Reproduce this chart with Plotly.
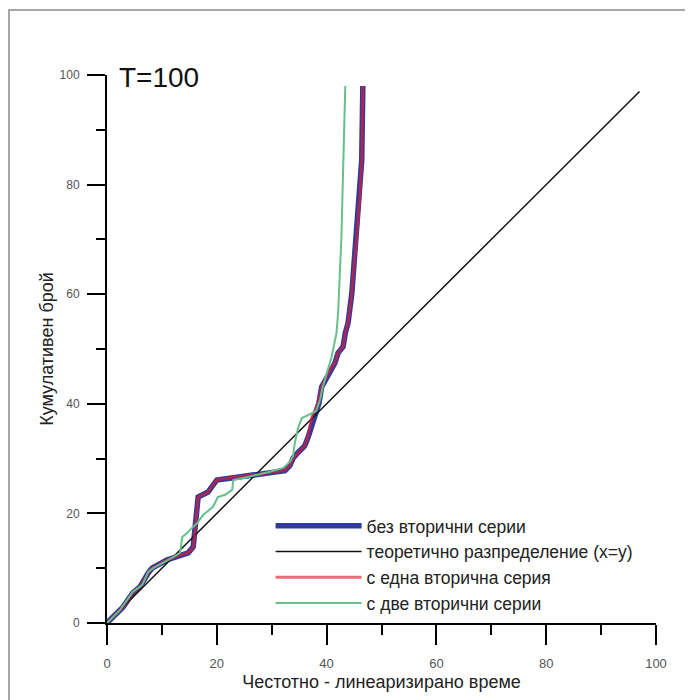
import plotly.graph_objects as go

# theoretical distribution x = y
theory_x = [0, 97]
theory_y = [0, 97]

# без вторични серии
no_sec_x = [0, 1.8, 2.9, 4.7, 6.0, 7.5, 8.2, 10.9, 13.3, 14.8, 15.7, 16.0, 16.4, 16.6, 18.4, 19.7, 20.0,
            23.0, 27.3, 29.7, 32.4, 33.3, 33.9, 34.9, 36.0, 36.6, 37.2, 37.6, 38.2, 38.6, 39.1, 40.0,
            40.9, 41.5, 42.1, 43.0, 43.4, 43.9, 44.6, 44.8, 45.5, 46.1, 46.4, 46.6]
no_sec_y = [0, 1.8, 2.9, 5.5, 6.6, 9.1, 10.0, 11.5, 12.4, 12.8, 13.9, 16.4, 20.6, 23.0, 23.9, 25.7, 26.1,
            26.5, 27.0, 27.3, 27.8, 28.7, 30.1, 31.2, 32.3, 33.8, 35.8, 37.6, 38.9, 40.1, 43.1, 44.9,
            46.7, 47.4, 49.3, 50.4, 52.9, 54.7, 60.2, 63.1, 70.4, 78.5, 84.5, 98.0]

# с една вторична серия
one_sec_x = [0, 1.8, 2.9, 4.7, 6.0, 7.5, 8.2, 10.9, 13.3, 14.8, 15.7, 16.0, 16.4, 16.6, 18.4, 19.7, 20.0,
             23.0, 27.3, 29.7, 32.4, 33.3, 33.9, 34.9, 36.0, 36.5, 37.0, 37.3, 37.9, 38.4, 39.1, 40.0,
             40.9, 41.5, 42.1, 43.0, 43.4, 43.9, 44.6, 44.8, 45.5, 46.1, 46.4, 46.6]
one_sec_y = [0, 1.8, 2.9, 5.5, 6.6, 9.1, 10.0, 11.5, 12.4, 12.8, 13.9, 16.4, 20.6, 23.0, 23.9, 25.7, 26.1,
             26.6, 27.1, 27.4, 27.9, 28.7, 30.1, 31.2, 32.3, 33.6, 35.8, 37.6, 38.9, 40.1, 43.1, 44.9,
             46.7, 47.4, 49.3, 50.4, 52.9, 54.7, 60.2, 63.1, 70.4, 78.5, 84.5, 98.0]

# с две вторични серии
two_sec_x = [0, 2.4, 4.7, 6.4, 7.5, 8.4, 11.5, 13.3, 13.7, 14.6, 15.1, 16.4, 17.5, 19.3, 20.2, 21.5, 22.8,
             23.0, 25.5, 27.3, 29.7, 32.1, 33.3, 33.9, 34.2, 34.8, 35.5, 37.0, 38.1, 38.8, 39.3, 40.0,
             40.9, 41.8, 42.1, 42.7, 43.0, 43.4]
two_sec_y = [0, 2.4, 5.7, 6.9, 9.3, 10.0, 11.7, 12.8, 15.7, 16.4, 17.0, 18.2, 19.7, 21.2, 23.0, 23.4, 24.3,
             26.1, 26.6, 27.0, 27.6, 28.3, 29.4, 30.5, 32.8, 35.6, 37.4, 38.1, 38.7, 40.7, 43.1, 45.5,
             48.5, 52.9, 56.6, 70.4, 84.5, 98.0]

x_ticks = [0, 20, 40, 60, 80, 100]
y_ticks = [0, 20, 40, 60, 80, 100]

fig = go.Figure()
fig.add_trace(go.Scatter(x=no_sec_x, y=no_sec_y, mode="lines", name="без вторични серии",
                         line=dict(color="#2E3A9C", width=5.5)))
fig.add_trace(go.Scatter(x=theory_x, y=theory_y, mode="lines", name="теоретично разпределение (x=y)",
                         line=dict(color="#111111", width=1.5)))
fig.add_trace(go.Scatter(x=one_sec_x, y=one_sec_y, mode="lines", name="с една вторична серия",
                         line=dict(color="rgba(222,30,50,0.65)", width=3)))
fig.add_trace(go.Scatter(x=two_sec_x, y=two_sec_y, mode="lines", name="с две вторични серии",
                         line=dict(color="#66C08A", width=2)))

# page body adds an 8px offset, so the figure is 8px smaller and margins are shifted
W, H = 685, 692
L, R, T, B = 99, 37, 67, 77
pw, ph = W - L - R, H - T - B

fig.update_layout(
    width=W, height=H,
    margin=dict(l=L, r=R, t=T, b=B),
    paper_bgcolor="white", plot_bgcolor="white",
    font=dict(family="Liberation Sans, Arial, sans-serif", color="#222"),
    showlegend=True,
    legend=dict(x=0.298, y=0.21, xanchor="left", yanchor="top",
                bgcolor="rgba(0,0,0,0)", font=dict(size=17.5, color="#222"),
                itemwidth=86, tracegroupgap=0),
    xaxis=dict(range=[0, 100], tickvals=x_ticks, showgrid=False, zeroline=False,
               showline=True, linecolor="black", linewidth=2,
               ticks="outside", ticklen=20, tickwidth=2, tickcolor="black",
               minor=dict(dtick=10, ticklen=10, tickwidth=2, tickcolor="black", ticks="outside", showgrid=False),
               tickfont=dict(size=13, color="#555"), ticklabelstandoff=7,
               title=dict(text="Честотно - линеаризирано време", font=dict(size=18, color="#222"), standoff=6)),
    yaxis=dict(range=[0, 100], tickvals=y_ticks, showgrid=False, zeroline=False,
               showline=True, linecolor="black", linewidth=2,
               ticks="outside", ticklen=18, tickwidth=2, tickcolor="black",
               minor=dict(dtick=10, ticklen=9, tickwidth=2, tickcolor="black", ticks="outside", showgrid=False),
               tickfont=dict(size=12, color="#555"), ticklabelstandoff=5,
               title=dict(text="Кумулативен брой", font=dict(size=18, color="#222"), standoff=1)),
    annotations=[dict(text="T=100", xref="paper", yref="paper", x=0.018, y=0.996,
                      xanchor="left", yanchor="middle", showarrow=False,
                      font=dict(size=28, color="#111"))],
    shapes=[dict(type="rect", xref="paper", yref="paper",
                 x0=(1 - L) / pw, x1=(678 - L) / pw,
                 y0=-(H + 20 - T - ph) / ph, y1=1 + (T - 2) / ph,
                 line=dict(color="#8a8a8a", width=1.5), fillcolor="rgba(0,0,0,0)", layer="below")],
)

fig.write_html("out.html")
